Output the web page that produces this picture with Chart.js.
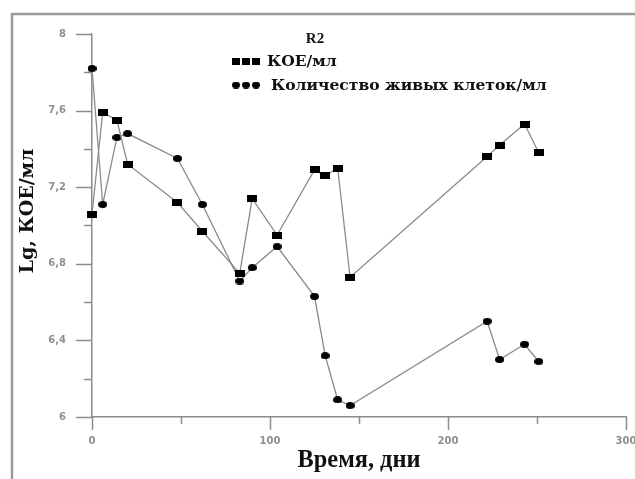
<!DOCTYPE html>
<html><head><meta charset="utf-8">
<script src="https://cdn.jsdelivr.net/npm/chart.js@4/dist/chart.umd.min.js"></script>
<style>html,body{margin:0;padding:0;background:#fff}#wrap{width:635px;height:479px;position:relative}</style>
</head><body><div id="wrap"><canvas id="c" width="635" height="479"></canvas></div>
<script>
// ---- data ----
const days = [0, 6, 14, 20, 48, 62, 83, 90, 104, 125, 131, 138, 145, 222, 229, 243, 251];
const cfuValues = [7.06, 7.59, 7.55, 7.32, 7.12, 6.97, 6.75, 7.14, 6.95, 7.29, 7.26, 7.30, 6.73, 7.36, 7.42, 7.53, 7.38];
const liveCellValues = [7.82, 7.11, 7.46, 7.48, 7.35, 7.11, 6.71, 6.78, 6.89, 6.63, 6.32, 6.09, 6.06, 6.50, 6.30, 6.38, 6.29];
const xTickValues = [0, 100, 200, 300];
const yTickValues = [6, 6.4, 6.8, 7.2, 7.6, 8];
const seriesNames = ['КОЕ/мл', 'Количество живых клеток/мл'];
const chartTitle = 'R2';
const xTitle = 'Время, дни';
const yTitle = 'Lg, КОЕ/мл';

// ---- helpers ----
const measureCtx = document.createElement('canvas').getContext('2d');
function fitSize(text, family, target, base) {
  measureCtx.font = 'bold ' + base + 'px ' + family;
  return base * target / measureCtx.measureText(text).width;
}
function makeMarker(shape, w, h) {
  const c = document.createElement('canvas');
  c.width = w; c.height = h;
  const g = c.getContext('2d');
  g.fillStyle = '#000';
  if (shape === 'rect') g.fillRect(0, 0, w, h);
  else { g.beginPath(); g.ellipse(w / 2, h / 2, w / 2, h / 2, 0, 0, Math.PI * 2); g.fill(); }
  return c;
}
const squareMarker = makeMarker('rect', 10, 7);
const circleMarker = makeMarker('ellipse', 9, 7);
const legendSquare = makeMarker('rect', 8, 7);
const legendCircle = makeMarker('ellipse', 8, 7);

const serifA = '"Liberation Serif", serif';
const serifB = '"DejaVu Serif", serif';
const xTitleSize = fitSize(xTitle, serifA, 123, 24);
const yTitleSize = fitSize(yTitle, serifB, 125, 17);
const legendSize = fitSize(seriesNames[1], serifB, 276, 15);

const AXIS = '#8c8c8c';

const decorPlugin = {
  id: 'decor',
  beforeDatasetsDraw(chart) {
    const ctx = chart.ctx, x = chart.scales.x, y = chart.scales.y;
    const a = chart.chartArea;
    ctx.save();
    // outer frame (left + top)
    ctx.strokeStyle = '#9a9a9a';
    ctx.lineWidth = 2.5;
    ctx.beginPath();
    ctx.moveTo(12, 479); ctx.lineTo(12, 14); ctx.lineTo(635, 14);
    ctx.stroke();
    // tick marks
    ctx.strokeStyle = AXIS;
    ctx.lineWidth = 1.5;
    ctx.beginPath();
    for (let v = y.min; v <= y.max + 1e-9; v += 0.2) {
      const py = Math.round(y.getPixelForValue(v)) + 0.5;
      const major = Math.abs(v / 0.4 - Math.round(v / 0.4)) < 1e-6;
      ctx.moveTo(a.left - (major ? 16 : 8), py); ctx.lineTo(a.left, py);
    }
    for (let v = x.min; v <= x.max + 1e-9; v += 50) {
      const px = Math.round(x.getPixelForValue(v)) + 0.5;
      const major = v % 100 === 0;
      ctx.moveTo(px, a.bottom); ctx.lineTo(px, a.bottom + (major ? 13 : 7));
    }
    ctx.stroke();
    // y title
    ctx.fillStyle = '#111';
    ctx.font = 'bold ' + yTitleSize + 'px ' + serifB;
    ctx.textAlign = 'center';
    ctx.textBaseline = 'middle';
    ctx.translate(28, 211);
    ctx.rotate(-Math.PI / 2);
    ctx.fillText(yTitle, 0, 0);
    ctx.restore();
  },
  afterDraw(chart) {
    const ctx = chart.ctx;
    ctx.save();
    ctx.fillStyle = '#111';
    ctx.textBaseline = 'middle';
    ctx.font = 'bold 15px ' + serifA;
    ctx.textAlign = 'center';
    ctx.fillText(chartTitle, 315, 39);
    ctx.textAlign = 'left';
    ctx.font = 'bold ' + legendSize + 'px ' + serifB;
    const rows = [[legendSquare, 61, 267], [legendCircle, 85, 271]];
    rows.forEach((r, i) => {
      [236, 246, 256].forEach(cx => ctx.drawImage(r[0], cx - r[0].width / 2, r[1] - r[0].height / 2));
      ctx.fillText(seriesNames[i], r[2], r[1] + 1);
    });
    ctx.restore();
  }
};

const lineStyle = { showLine: true, borderColor: '#8a8a8a', borderWidth: 1.3, tension: 0, clip: false, fill: false };

new Chart(document.getElementById('c'), {
  type: 'scatter',
  data: {
    datasets: [
      Object.assign({ label: seriesNames[0], data: days.map((d, i) => ({ x: d, y: cfuValues[i] })), pointStyle: squareMarker }, lineStyle),
      Object.assign({ label: seriesNames[1], data: days.map((d, i) => ({ x: d, y: liveCellValues[i] })), pointStyle: circleMarker }, lineStyle)
    ]
  },
  options: {
    responsive: false,
    animation: false,
    devicePixelRatio: 1,
    layout: { padding: { left: 0, top: 34, right: 9, bottom: 0 }, autoPadding: false },
    plugins: { legend: { display: false }, tooltip: { enabled: false } },
    scales: {
      x: {
        type: 'linear', min: 0, max: 300,
        afterBuildTicks: s => { s.ticks = xTickValues.map(v => ({ value: v })); },
        afterFit: s => { s.height = 62; s.paddingLeft = 0; s.paddingRight = 0; s.paddingTop = 0; s.paddingBottom = 0; },
        ticks: { color: '#8f8f8f', padding: 18, maxRotation: 0, font: { family: '"DejaVu Sans", sans-serif', size: 10, weight: 'bold' } },
        grid: { display: false, drawTicks: false },
        border: { display: true, color: AXIS, width: 1.5 },
        title: { display: true, text: xTitle, color: '#111', font: { family: serifA, size: xTitleSize, weight: 'bold', lineHeight: 1.2 }, padding: { top: 0, bottom: 4 } }
      },
      y: {
        type: 'linear', min: 6, max: 8,
        afterBuildTicks: s => { s.ticks = yTickValues.map(v => ({ value: v })); },
        afterFit: s => { s.width = 92; s.paddingLeft = 0; s.paddingRight = 0; s.paddingTop = 0; s.paddingBottom = 0; },
        ticks: { color: '#8f8f8f', padding: 26, font: { family: '"DejaVu Sans", sans-serif', size: 10, weight: 'bold' },
          callback: v => String(Math.round(v * 10) / 10).replace('.', ',') },
        grid: { display: false, drawTicks: false },
        border: { display: true, color: AXIS, width: 1.5 }
      }
    }
  },
  plugins: [decorPlugin]
});
</script></body></html>
